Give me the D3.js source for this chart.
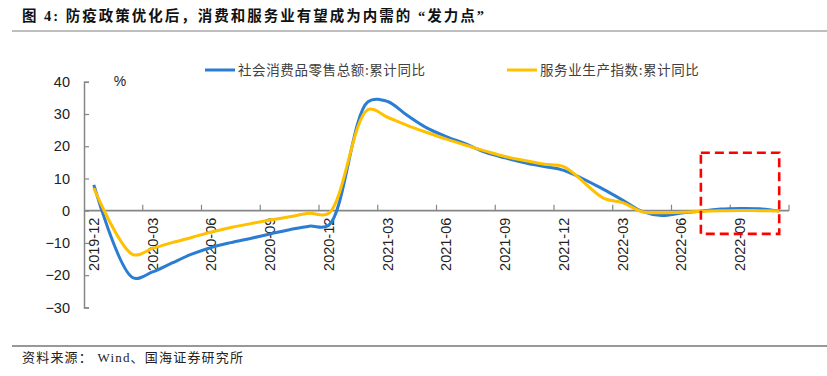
<!DOCTYPE html>
<html>
<head>
<meta charset="utf-8">
<title>图4</title>
<style>
    body { margin: 0; background: #fff; }
    svg { display: block; }
</style>
</head>
<body>
<script src="https://d3js.org/d3.v7.min.js"></script>
<script>
    // data
    const months = ["2019-12","2020-01","2020-02","2020-03","2020-04","2020-05","2020-06","2020-07","2020-08","2020-09","2020-10","2020-11","2020-12",
        "2021-01","2021-02","2021-03","2021-04","2021-05","2021-06","2021-07","2021-08","2021-09","2021-10","2021-11","2021-12",
        "2022-01","2022-02","2022-03","2022-04","2022-05","2022-06","2022-07","2022-08","2022-09","2022-10","2022-11"];
    const retail = [8.0, null, -20.8, -19.0, -16.2, -13.5, -11.4, -9.9, -8.6, -7.2, -5.9, -4.8, -4.5,
        null, 33.8, 33.9, 29.6, 25.7, 23.0, 20.7, 18.1, 16.4, 14.9, 13.7, 12.5,
        null, 6.7, 3.3, -0.2, -1.5, -0.7, -0.2, 0.5, 0.7, 0.6, -0.1];
    const services = [7.0, null, -13.6, -11.7, -9.9, -8.3, -6.6, -5.2, -4.0, -2.9, -1.9, -0.8, -0.8,
        null, 31.4, 29.0, 26.5, 24.3, 22.2, 20.3, 18.5, 16.8, 15.6, 14.4, 13.7,
        null, 4.0, 2.5, -0.3, -0.6, -0.5, -0.2, 0.0, 0.1, 0.0, -0.1];
    const seriesNames = ["社会消费品零售总额:累计同比", "服务业生产指数:累计同比"];
    const seriesColors = ["#2a7dd2", "#ffc000"];
    const yTicks = [40, 30, 20, 10, 0, -10, -20, -30];
    const xLabels = months.filter((d, i) => i % 3 === 0);
    const highlight = {from: "2022-07", to: "2022-11", top: 18, bottom: -7.2};

    const width = 827, height = 376;
    const svg = d3.select("body").append("svg")
        .attr("width", width)
        .attr("height", height);

    const cjk = "'Liberation Serif', 'Noto Sans CJK SC', serif";

    // title and rules
    svg.append("text")
        .attr("x", 22).attr("y", 21)
        .attr("font-family", cjk)
        .attr("font-size", 14.5)
        .attr("font-weight", "bold")
        .attr("fill", "#111")
        .attr("letter-spacing", 2)
        .text("图 4:  防疫政策优化后，消费和服务业有望成为内需的 “发力点”");
    svg.append("line")
        .attr("x1", 12).attr("x2", width).attr("y1", 31).attr("y2", 31)
        .attr("stroke", "#7f7f7f").attr("stroke-width", 1.2);
    svg.append("line")
        .attr("x1", 12).attr("x2", width).attr("y1", 346).attr("y2", 346)
        .attr("stroke", "#333").attr("stroke-width", 1.2);
    svg.append("text")
        .attr("x", 22).attr("y", 362)
        .attr("font-family", cjk)
        .attr("font-size", 13)
        .attr("fill", "#222")
        .attr("letter-spacing", 1.2)
        .text("资料来源： Wind、国海证券研究所");

    // scales
    const plotLeft = 84, plotRight = 789;
    const scaleX = d3.scaleBand()
        .domain(months)
        .range([plotLeft, plotRight]);
    const scaleY = d3.scaleLinear()
        .domain([-30, 40])
        .range([307.4, 81.8]);
    const cx = d => scaleX(d) + scaleX.bandwidth() / 2;

    const axisColor = "#868686";

    // y axis
    const gY = svg.append("g").attr("transform", `translate(${plotLeft},0)`);
    gY.call(d3.axisRight(scaleY).tickValues(yTicks).tickSize(5).tickFormat(d3.format("d")))
        .call(g => g.select(".domain").attr("stroke", axisColor).attr("stroke-width", 1.5))
        .call(g => g.selectAll(".tick line").attr("stroke", axisColor).attr("stroke-width", 1.2))
        .call(g => g.selectAll(".tick text")
            .attr("x", -14)
            .attr("text-anchor", "end")
            .attr("font-family", "Liberation Sans, Arial, sans-serif")
            .attr("font-size", 14.5)
            .attr("fill", "#222"));
    svg.append("text")
        .attr("x", 120).attr("y", 86)
        .attr("text-anchor", "middle")
        .attr("font-family", "Liberation Sans, Arial, sans-serif")
        .attr("font-size", 14)
        .attr("fill", "#222")
        .text("%");

    // x axis at zero
    const y0 = scaleY(0);
    const gX = svg.append("g");
    gX.append("line")
        .attr("x1", plotLeft).attr("x2", plotRight)
        .attr("y1", y0).attr("y2", y0)
        .attr("stroke", axisColor).attr("stroke-width", 1.8);
    const tickPos = months.filter((d, i) => i % 3 === 0).map(d => scaleX(d)).concat([plotRight]);
    gX.selectAll("line.tick")
        .data(tickPos.slice(1))
        .join("line")
        .attr("class", "tick")
        .attr("x1", d => d).attr("x2", d => d)
        .attr("y1", y0).attr("y2", y0 - 6)
        .attr("stroke", axisColor).attr("stroke-width", 1.2);
    gX.selectAll("text")
        .data(xLabels)
        .join("text")
        .attr("transform", d => `translate(${cx(d) + 5},${y0 + 7}) rotate(-90)`)
        .attr("text-anchor", "end")
        .attr("font-family", "Liberation Sans, Arial, sans-serif")
        .attr("font-size", 14.5)
        .attr("fill", "#222")
        .text(d => d);

    // lines
    const line = d3.line()
        .x(d => cx(d.m))
        .y(d => scaleY(d.v))
        .curve(d3.curveCatmullRom.alpha(0.5));
    [retail, services].forEach((vals, k) => {
        const pts = months.map((m, i) => ({m, v: vals[i]})).filter(d => d.v !== null);
        svg.append("path")
            .datum(pts)
            .attr("d", line)
            .attr("fill", "none")
            .attr("stroke", seriesColors[k])
            .attr("stroke-width", 3)
            .attr("stroke-linejoin", "round");
    });

    // legend
    const legendX = [205, 507];
    seriesNames.forEach((name, k) => {
        const g = svg.append("g").attr("transform", `translate(${legendX[k]},70)`);
        g.append("line")
            .attr("x1", 0).attr("x2", 30)
            .attr("stroke", seriesColors[k]).attr("stroke-width", 3);
        g.append("text")
            .attr("x", 33).attr("y", 5)
            .attr("font-family", "'Noto Sans CJK SC', sans-serif")
            .attr("font-size", 13.5)
            .attr("fill", "#404040")
            .attr("letter-spacing", 0.6)
            .text(name);
    });

    // highlight box
    svg.append("rect")
        .attr("x", cx(highlight.from))
        .attr("y", scaleY(highlight.top))
        .attr("width", cx(highlight.to) - cx(highlight.from))
        .attr("height", scaleY(highlight.bottom) - scaleY(highlight.top))
        .attr("fill", "none")
        .attr("stroke", "#ff0000")
        .attr("stroke-width", 2.6)
        .attr("stroke-dasharray", "9,5");
</script>
</body>
</html>
